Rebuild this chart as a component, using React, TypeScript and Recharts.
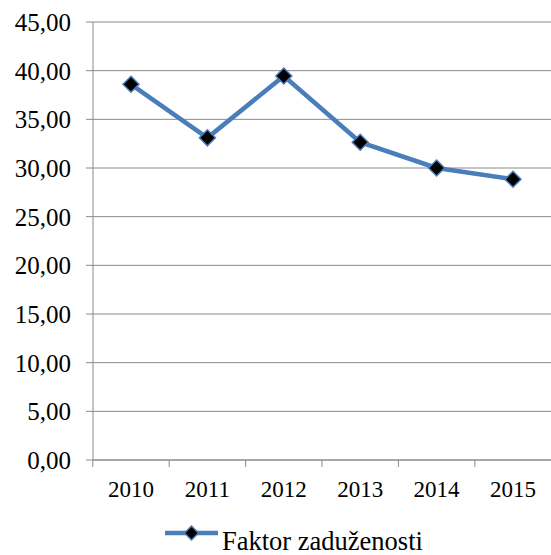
import { LineChart, Line, XAxis, YAxis, CartesianGrid, Legend } from "recharts";

const years = ["2010", "2011", "2012", "2013", "2014", "2015"];
const faktor = [38.6, 33.1, 39.45, 32.65, 30.0, 28.85];
const yTicks = [0, 5, 10, 15, 20, 25, 30, 35, 40, 45];
const seriesName = "Faktor zaduženosti";

const data = years.map((year, i) => ({ year, value: faktor[i] }));

const BLUE = "#4A7EBB";
const GRID = "#8A8A8A";
const FONT = '"Liberation Serif", "Times New Roman", serif';

const Diamond = (props: any) => {
    const { cx, cy } = props;
    if (cx == null || cy == null) return null;
    const r = 8;
    return (
        <polygon
            points={`${cx},${cy - r} ${cx + r},${cy} ${cx},${cy + r} ${cx - r},${cy}`}
            fill="#000"
            stroke={BLUE}
            strokeWidth={1.5}
        />
    );
};

// Excel-style category ticks: marks between categories, label in the middle
const YearTick = (props: any) => {
    const { x, y, payload } = props;
    return (
        <g>
            <line x1={x - 38.2} x2={x - 38.2} y1={y} y2={y + 7} stroke={GRID} />
            <text
                x={x}
                y={y + 37}
                textAnchor="middle"
                style={{ fontFamily: FONT, fontSize: 23 }}
                fill="#000"
            >
                {payload.value}
            </text>
        </g>
    );
};

const LegendContent = () => (
    <svg width={551} height={47} style={{ display: "block" }}>
        <line x1={165} x2={218} y1={25} y2={25} stroke={BLUE} strokeWidth={4.5} />
        <polygon points="191.5,18 198.5,25 191.5,32 184.5,25" fill="#000" stroke={BLUE} strokeWidth={1.5} />
        <text x={222} y={42} style={{ fontFamily: FONT, fontSize: 26.5 }} fill="#000">
            {seriesName}
        </text>
    </svg>
);

export default function App() {
    return (
        <div style={{ width: 551, height: 555, background: "#fff" }}>
            <style>{`body{margin:0}`}</style>
            <LineChart
                width={551}
                height={555}
                data={data}
                margin={{ top: 22, right: 0, bottom: 0, left: 0 }}
            >
                <CartesianGrid vertical={false} stroke={GRID} />
                <XAxis
                    dataKey="year"
                    padding={{ left: 38, right: 38 }}
                    stroke={GRID}
                    tickLine={false}
                    tickSize={0}
                    tickMargin={0}
                    tick={<YearTick />}
                    height={48}
                    interval={0}
                />
                <YAxis
                    domain={[0, 45]}
                    ticks={yTicks}
                    width={93}
                    stroke={GRID}
                    tickSize={7}
                    tickMargin={15}
                    tickFormatter={(v: number) => v.toFixed(2).replace(".", ",")}
                    tick={{ fill: "#000", fontSize: 25, style: { fontFamily: FONT } }}
                    interval={0}
                />
                <Legend verticalAlign="bottom" height={47} content={<LegendContent />} />
                <Line
                    type="linear"
                    dataKey="value"
                    name={seriesName}
                    stroke={BLUE}
                    strokeWidth={4.5}
                    dot={<Diamond />}
                    activeDot={false}
                    isAnimationActive={false}
                />
            </LineChart>
        </div>
    );
}
